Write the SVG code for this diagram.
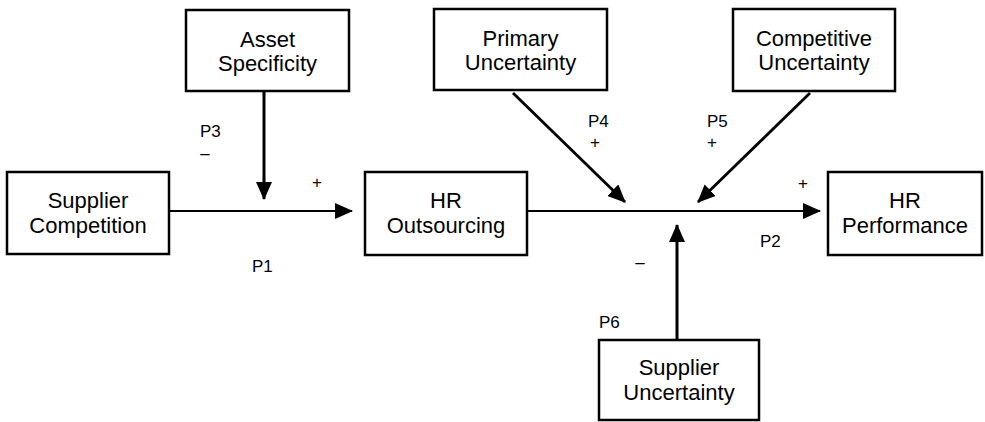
<svg xmlns="http://www.w3.org/2000/svg" width="985" height="422" viewBox="0 0 985 422">
<style>
.box{fill:#fff;stroke:#000;stroke-width:2.5}
.t{font-family:"Liberation Sans",Arial,sans-serif;font-size:22px;fill:#000;text-anchor:middle}
.l{font-family:"Liberation Sans",Arial,sans-serif;font-size:17px;fill:#000}
.c{stroke:#000;stroke-width:2.2;fill:none;marker-end:url(#ah)}
</style>
<defs>
<marker id="ah" viewBox="0 0 18 16" refX="17" refY="8" markerWidth="18" markerHeight="16" markerUnits="userSpaceOnUse" orient="auto">
<path d="M0,0 L18,8 L0,16 Z" fill="#000"/>
</marker>
</defs>
<rect width="985" height="422" fill="#fff"/>
<g id="connectors">
<line class="c" x1="169" y1="211" x2="352" y2="211"/>
<line class="c" x1="264" y1="91" x2="264" y2="199" style="stroke-width:3"/>
<line class="c" x1="527" y1="211" x2="820" y2="211"/>
<line class="c" x1="513" y1="93" x2="625" y2="202" style="stroke-width:2.8"/>
<line class="c" x1="810" y1="93" x2="698" y2="202" style="stroke-width:2.8"/>
<line class="c" x1="677" y1="340" x2="677" y2="225" style="stroke-width:3"/>
</g>
<g id="labels">
<text class="l" x="200" y="137">P3</text>
<text class="l" x="205" y="159" text-anchor="middle">–</text>
<text class="l" x="317" y="188" text-anchor="middle">+</text>
<text class="l" x="252" y="272">P1</text>
<text class="l" x="588" y="127">P4</text>
<text class="l" x="595" y="148" text-anchor="middle">+</text>
<text class="l" x="707" y="127">P5</text>
<text class="l" x="712" y="148" text-anchor="middle">+</text>
<text class="l" x="803" y="189" text-anchor="middle">+</text>
<text class="l" x="760" y="247">P2</text>
<text class="l" x="640" y="268" text-anchor="middle">–</text>
<text class="l" x="599" y="328">P6</text>
</g>
<g id="asset">
<rect class="box" x="186" y="10" width="163" height="81"/>
<text class="t" x="267.5" y="47">Asset</text>
<text class="t" x="267.5" y="71">Specificity</text>
</g>
<g id="supplier-competition">
<rect class="box" x="7" y="172" width="162" height="82"/>
<text class="t" x="88" y="208">Supplier</text>
<text class="t" x="88" y="233">Competition</text>
</g>
<g id="hr-outsourcing">
<rect class="box" x="365" y="172" width="162" height="83"/>
<text class="t" x="446" y="208">HR</text>
<text class="t" x="446" y="233">Outsourcing</text>
</g>
<g id="primary-uncertainty">
<rect class="box" x="434" y="9" width="173" height="81"/>
<text class="t" x="520.5" y="46">Primary</text>
<text class="t" x="520.5" y="70">Uncertainty</text>
</g>
<g id="competitive-uncertainty">
<rect class="box" x="733" y="9" width="162" height="82"/>
<text class="t" x="814" y="46">Competitive</text>
<text class="t" x="814" y="70">Uncertainty</text>
</g>
<g id="hr-performance">
<rect class="box" x="828" y="172" width="154" height="83"/>
<text class="t" x="905" y="208">HR</text>
<text class="t" x="905" y="233">Performance</text>
</g>
<g id="supplier-uncertainty">
<rect class="box" x="599" y="340" width="160" height="80"/>
<text class="t" x="679" y="375">Supplier</text>
<text class="t" x="679" y="400">Uncertainty</text>
</g>
</svg>
